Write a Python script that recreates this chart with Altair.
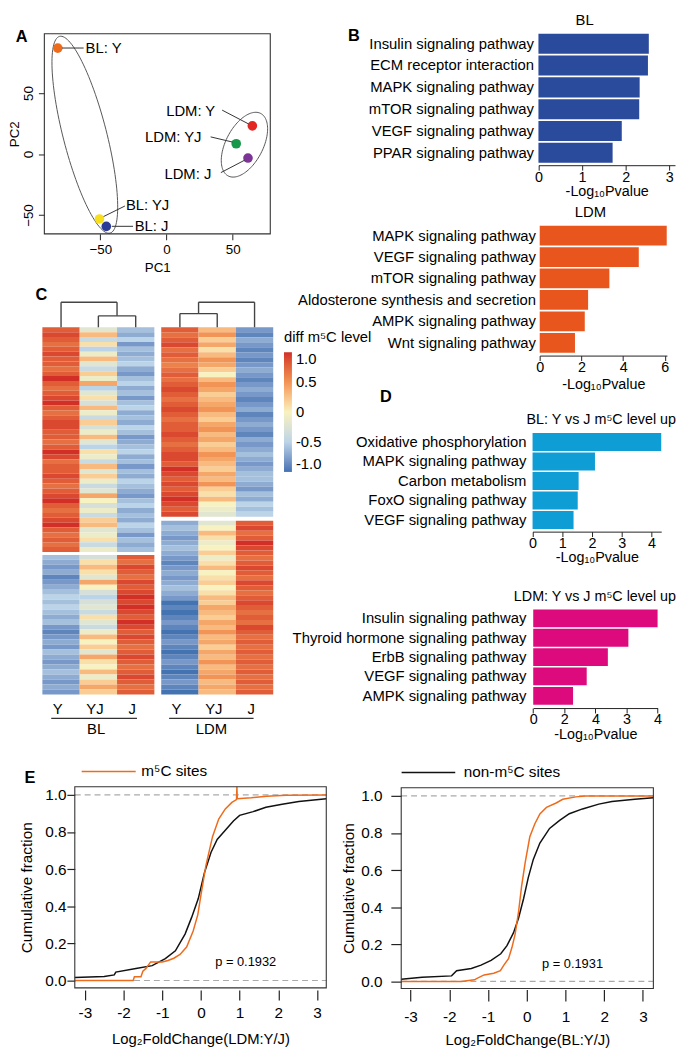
import altair as alt
import pandas as pd

FONT = "Liberation Sans"
W, H = 680, 1046


def X(x):
    return round((x - 6) * 0.994, 2)


def Y(y):
    return round((y - 1) * 0.988, 2)


# ---------------- Panel A data ----------------
pca_samples = ["BL: Y", "BL: YJ", "BL: J", "LDM: Y", "LDM: YJ", "LDM: J"]
pca_pc1 = [-82.2, -50.7, -45.5, 64.9, 52.7, 61.6]
pca_pc2 = [86.8, -53.2, -59.3, 23.1, 8.4, -3.3]
pca_colors = ["#EE6B1C", "#F8DF1E", "#2C3C96", "#E42622", "#18994A", "#7C3596"]
ell_pc1 = [-61.75, 58.92]
ell_pc2 = [15.8, 7.64]
ell_a_px = [103.8, 36.0]
ell_b_px = [22.2, 19.0]
ell_tilt = [14.4, -27.5]

# ---------------- Panel B / D data ----------------
bl_terms = ["Insulin signaling pathway", "ECM receptor interaction", "MAPK signaling pathway",
            "mTOR signaling pathway", "VEGF signaling pathway", "PPAR signaling pathway"]
bl_vals = [2.53, 2.51, 2.32, 2.31, 1.91, 1.70]
ldm_terms = ["MAPK signaling pathway", "VEGF signaling pathway", "mTOR signaling pathway",
             "Aldosterone synthesis and secretion", "AMPK signaling pathway", "Wnt signaling pathway"]
ldm_vals = [6.09, 4.75, 3.34, 2.32, 2.16, 1.69]
dbl_terms = ["Oxidative phosphorylation", "MAPK signaling pathway", "Carbon metabolism",
             "FoxO signaling pathway", "VEGF signaling pathway"]
dbl_vals = [4.33, 2.10, 1.55, 1.52, 1.38]
dldm_terms = ["Insulin signaling pathway", "Thyroid hormone signaling pathway", "ErbB signaling pathway",
              "VEGF signaling pathway", "AMPK signaling pathway"]
dldm_vals = [4.0, 3.06, 2.40, 1.72, 1.28]

# ---------------- Panel C data (tenths) ----------------
heat_cols = ["Y", "YJ", "J"]
bl_up_Y = [8, 9, 8, 7, 8, 9, 8, 8, 7, 8, 10, 8, 7, 8, 9, 10, 8, 7, 8, 9, 9, 8, 8, 7, 8, 10, 9, 7, 8, 8,
           9, 8, 7, 8, 9, 10, 8, 7, 8, 9, 10, 8, 7, 8, 7, 8]
bl_up_YJ = [-2, 3, -4, 1, -5, -1, 3, -2, -4, 2, -1, 4, -5, -2, 1, -3, 3, -1, -4, 2, -3, -1, 3, -2, -5, 1,
            -1, -4, 3, -2, 2, -1, -4, -2, 4, 0, -3, -1, -4, 2, 3, -2, -1, 1, -4, -1]
bl_up_J = [-6, -7, -5, -8, -6, -7, -6, -5, -7, -8, -6, -5, -7, -6, -8, -6, -5, -7, -6, -7, -5, -6, -8, -7,
           -6, -5, -7, -6, -8, -6, -7, -5, -6, -7, -8, -6, -5, -7, -6, -7, -5, -6, -8, -6, -7, -6]
bl_dn_Y = [-6, -7, -8, -7, -9, -8, -7, -6, -5, -6, -5, -6, -7, -6, -8, -9, -8, -7, -8, -6, -7, -8, -7, -6,
           -7, -8, -7, -8]
bl_dn_YJ = [-3, 1, 3, 1, -2, 4, 0, -3, -5, -3, -2, -4, 1, -2, -4, -1, 3, 0, 2, -2, 4, 1, 0, 3, -1, 2, 4, 2]
bl_dn_J = [8, 7, 9, 8, 7, 9, 8, 9, 10, 9, 10, 9, 8, 10, 9, 8, 9, 8, 7, 8, 9, 8, 7, 8, 9, 8, 7, 8]
ldm_up_Y = [8, 7, 8, 9, 7, 8, 7, 6, 7, 8, 7, 8, 9, 8, 7, 8, 9, 8, 7, 8, 8, 9, 8, 7, 8, 9, 9, 8, 10, 9,
            8, 9, 8, 9, 10, 9, 8, 9]
ldm_up_YJ = [3, 5, 2, 4, 1, 3, 5, 4, 2, 0, 3, 5, 4, 2, 3, 4, 5, 3, 2, 4, 5, 3, 4, 2, 3, 5, 4, 3, 2, 4,
             3, 5, 2, 1, 3, 0, -1, -2]
ldm_up_J = [-8, -9, -7, -8, -9, -8, -9, -8, -7, -8, -9, -8, -7, -8, -9, -8, -7, -9, -8, -7, -8, -9,
            -7, -8, -7, -6, -7, -8, -7, -6, -6, -7, -8, -6, -7, -5, -6, -5]
ldm_dn_Y = [-7, -6, -7, -8, -7, -6, -7, -8, -9, -8, -7, -8, -7, -6, -7, -8, -10, -9, -10, -9, -8, -9, -10,
            -9, -8, -9, -10, -9, -8, -9, -10, -9, -8, -9, -10]
ldm_dn_YJ = [-2, 0, 3, 1, -1, 0, 2, -1, 1, 3, 0, 1, 2, 0, 1, 3, 2, 4, 3, 2, 4, 3, 5, 3, 4, 2, 4, 3, 5, 3,
             4, 5, 3, 4, 3]
ldm_dn_J = [8, 9, 7, 8, 10, 9, 8, 7, 8, 9, 8, 7, 9, 8, 7, 8, 9, 8, 7, 8, 7, 9, 8, 7, 8, 7, 8, 7, 8, 7,
            8, 7, 8, 7, 8]
heat_colors = ["#4473B2", "#BCD4E8", "#F8F2C0", "#F29455", "#D22F27"]
# dendrogram segments (column units, merge height 0..1)
dendro_x1 = [0.5, 1.5, 2.5, 1.5, 2.0, 0.5, 3.684, 4.684, 3.684, 4.184, 5.684, 4.184]
dendro_x2 = [0.5, 1.5, 2.5, 2.5, 2.0, 2.0, 3.684, 4.684, 4.684, 4.184, 5.684, 5.684]
dendro_h1 = [0, 0, 0, 0.455, 0.455, 1, 0, 0, 0.545, 0.545, 0, 1]
dendro_h2 = [1, 0.455, 0.455, 0.455, 1, 1, 0.545, 0.545, 0.545, 1, 1, 1]

# ---------------- Panel E data ----------------
ldm_m5c_x = [-3.26, -1.75, -1.72, -1.55, -1.5, -1.42, -1.3, -1.0, -0.85, -0.7, -0.54, -0.37, -0.2, -0.08,
             0.0, 0.13, 0.3, 0.46, 0.63, 0.8, 0.92, 0.93, 0.94, 1.3, 1.7, 2.2, 3.24]
ldm_m5c_y = [0.0, 0.0, 0.02, 0.02, 0.05, 0.065, 0.1, 0.1, 0.108, 0.12, 0.14, 0.18, 0.267, 0.355,
             0.46, 0.62, 0.775, 0.87, 0.925, 0.96, 0.975, 1.044, 0.98, 0.985, 0.993, 0.998, 1.0]
ldm_non_x = [-3.26, -2.5, -2.24, -2.2, -1.68, -1.26, -0.92, -0.66, -0.41, -0.24, -0.07, 0.09, 0.26, 0.42,
             0.63, 0.84, 1.0, 1.35, 1.68, 2.1, 2.53, 3.24]
ldm_non_y = [0.016, 0.022, 0.03, 0.045, 0.065, 0.08, 0.118, 0.16, 0.25, 0.34, 0.44, 0.58, 0.69, 0.76,
             0.81, 0.86, 0.89, 0.91, 0.934, 0.95, 0.965, 0.98]
bl_m5c_x = [-3.24, -1.69, -1.35, -1.27, -1.1, -0.85, -0.68, -0.59, -0.47, -0.38, -0.3, -0.21, -0.13, -0.04,
            0.08, 0.21, 0.34, 0.51, 0.76, 0.93, 1.27, 1.52, 3.27]
bl_m5c_y = [0.0, 0.0, 0.009, 0.018, 0.035, 0.044, 0.058, 0.088, 0.123, 0.184, 0.254, 0.377, 0.517, 0.64,
            0.78, 0.85, 0.903, 0.938, 0.962, 0.982, 0.995, 1.0, 1.0]
bl_non_x = [-3.24, -2.7, -1.94, -1.81, -1.43, -1.18, -0.92, -0.67, -0.51, -0.34, -0.21, -0.08, 0.04, 0.17,
            0.34, 0.59, 0.85, 1.1, 1.44, 1.86, 2.2, 2.79, 3.27]
bl_non_y = [0.012, 0.023, 0.03, 0.058, 0.07, 0.088, 0.114, 0.149, 0.193, 0.263, 0.342, 0.447, 0.56, 0.658,
            0.746, 0.825, 0.868, 0.904, 0.93, 0.956, 0.97, 0.982, 0.99]

ORANGE = "#EE6B1C"
one = pd.DataFrame({"k": [0]})
AX = dict(grid=False, labelFont=FONT, titleFont=FONT, labelColor="black", titleColor="black",
          titleFontWeight="normal", tickColor="#222222", domainColor="#222222", labelFlush=False)


def txt(s, x, y, size=15, align="center", weight="normal"):
    return alt.Chart(one).mark_text(text=s, font=FONT, fontSize=size, align=align, baseline="middle",
                                    fontWeight=weight, color="black").encode(
        x=alt.value(X(x)), y=alt.value(Y(y)))


def seg(x1, y1, x2, y2, color="#333333", w=1.0):
    return alt.Chart(one).mark_rule(color=color, strokeWidth=w).encode(
        x=alt.value(X(x1)), y=alt.value(Y(y1)), x2=alt.value(X(x2)), y2=alt.value(Y(y2)))


def frame(x1, y1, x2, y2):
    return alt.Chart(one).mark_rect(fillOpacity=0, stroke="#333333", strokeWidth=1.1).encode(
        x=alt.value(X(x1)), y=alt.value(Y(y1)), x2=alt.value(X(x2)), y2=alt.value(Y(y2)))


layers = []

# ================= Panel A =================
xa = alt.Scale(domain=[-92.35, 78.45], range=[X(43), X(273)], nice=False, zero=False)
ya = alt.Scale(domain=[-65.4, 98.6], range=[Y(226), Y(21)], nice=False, zero=False)
kx = (X(273) - X(43)) / (78.45 + 92.35)
ky = (Y(226) - Y(21)) / (98.6 + 65.4)

for cx, cy, a, b, t in zip(ell_pc1, ell_pc2, ell_a_px, ell_b_px, ell_tilt):
    a, b = a * 0.99, b * 0.99
    T = "(datum.deg*PI/180)"
    P = f"({t}*PI/180)"
    layers.append(
        alt.Chart(alt.sequence(0, 363, 3, as_="deg")).transform_calculate(
            pc1=f"{cx} + ({a}*cos({T})*sin({P}) + {b}*sin({T})*cos({P}))/{kx}",
            pc2=f"{cy} - ({a}*cos({T})*cos({P}) - {b}*sin({T})*sin({P}))/{ky}",
        ).mark_line(color="#555555", strokeWidth=1).encode(
            x=alt.X("pc1:Q", scale=xa, axis=None),
            y=alt.Y("pc2:Q", scale=ya, axis=None),
            order="deg:Q")
    )

pca_df = pd.DataFrame({"sample": pca_samples, "pc1": pca_pc1, "pc2": pca_pc2})
layers.append(
    alt.Chart(pca_df).mark_circle(size=95, opacity=1).encode(
        x=alt.X("pc1:Q", scale=xa, axis=alt.Axis(
            orient="bottom", offset=Y(226) - H, values=[-50, 0, 50], tickSize=6, labelPadding=3,
            domain=False, labelFontSize=13.5, title="PC1", titleFontSize=13.5, titlePadding=5, **AX)),
        y=alt.Y("pc2:Q", scale=ya, axis=alt.Axis(
            orient="left", offset=-X(43), values=[-50, 0, 50], tickSize=6, labelPadding=3,
            domain=False, labelAngle=270, labelAlign="center", labelBaseline="bottom",
            labelFontSize=13.5, title="PC2", titleFontSize=13.5, titlePadding=0.5, **AX)),
        color=alt.Color("sample:N", scale=alt.Scale(domain=pca_samples, range=pca_colors), legend=None),
    )
)
layers.append(frame(43, 21, 273, 226))
layers += [
    seg(61, 35.7, 83, 35.7), seg(103.3, 208.3, 125, 197.5), seg(111.7, 218.3, 133.3, 218.3),
    seg(224, 99.3, 251, 113.5), seg(212.3, 126.7, 234.5, 132), seg(222.7, 163.3, 247, 150.5),
    txt("BL: Y", 85, 35.7, 15, "left"), txt("BL: YJ", 126, 196.7, 15, "left"),
    txt("BL: J", 135, 218.3, 15, "left"), txt("LDM: Y", 217, 100.7, 15, "right"),
    txt("LDM: YJ", 203, 126.7, 15, "right"), txt("LDM: J", 213, 164.3, 15, "right"),
    txt("A", 20, 24, 16.5, weight="bold"),
]


# ================= Panels B & D =================
def bars(terms, vals, color, x0, x1, dmax, ytop, ybot, axis_y, ticks, tpad, label_end, label_expr=None):
    df = pd.DataFrame({"term": terms, "v": vals})
    xs = alt.Scale(domain=[0, dmax], range=[X(x0), X(x1)], nice=False, zero=True)
    ys = alt.Scale(domain=terms, range=[Y(ytop), Y(ybot)], paddingInner=0.08, paddingOuter=0)
    xax = dict(orient="bottom", offset=Y(axis_y) - H, values=ticks, tickSize=5, labelPadding=0,
               labelFontSize=14.5, title="-Log₁₀Pvalue", titleFontSize=14.5, titlePadding=tpad,
               domain=True, **AX)
    if label_expr:
        xax["labelExpr"] = label_expr
    return alt.Chart(df).mark_bar(color=color).encode(
        x=alt.X("v:Q", scale=xs, axis=alt.Axis(**xax)),
        y=alt.Y("term:N", scale=ys, sort=terms, axis=alt.Axis(
            orient="left", offset=-X(x0), ticks=False, tickSize=0, domain=False,
            labelPadding=X(x0) - X(label_end), labelFontSize=15, labelLimit=400, title="", **AX)),
    )


layers += [
    bars(bl_terms, bl_vals, "#2A4A9B", 546, 685, 3.13, 21, 153.3, 155.7, [0, 1, 2, 3], 1, 541),
    bars(ldm_terms, ldm_vals, "#E8561D", 547.3, 676.8, 6.1, 217.7, 347.7, 350.7, [0, 2, 4, 6], 3.5, 543),
    bars(dbl_terms, dbl_vals, "#0F9DD5", 540, 671, 4.33, 430, 528.3, 531, [0, 1, 2, 3, 4], 1, 533.3),
    bars(dldm_terms, dldm_vals, "#DD0A7D", 540.7, 667.3, 4.0, 610.7, 708.3, 711.7, [0, 1, 2, 3, 4], 1, 533.3,
         "datum.value == 1 ? '2' : datum.value == 2 ? '4' : datum.value == 3 ? '3' : datum.value == 4 ? '4' : '0'"),
    txt("B", 358, 23, 16.5, weight="bold"),
    txt("BL", 593, 7, 15),
    txt("LDM", 599, 204, 15),
    txt("D", 390.7, 392.7, 16.5, weight="bold"),
    txt("BL: Y vs J m⁵C level up", 686, 416.7, 14.5, "right"),
    txt("LDM: Y vs J m⁵C level up", 686, 598.3, 14.5, "right"),
]

# ================= Panel C =================
LDM_X0 = 3.184
blocks = [
    (0.0, 0.0, 0.612, [bl_up_Y, bl_up_YJ, bl_up_J]),
    (0.0, 0.620, 1.0, [bl_dn_Y, bl_dn_YJ, bl_dn_J]),
    (LDM_X0, 0.0, 0.516, [ldm_up_Y, ldm_up_YJ, ldm_up_J]),
    (LDM_X0, 0.527, 1.0, [ldm_dn_Y, ldm_dn_YJ, ldm_dn_J]),
]
rows = []
for xo, s, e, cols in blocks:
    n = len(cols[0])
    step = (e - s) / n
    for ci, col in enumerate(cols):
        for i, v in enumerate(col):
            rows.append(dict(c0=xo + ci, c1=xo + ci + 1, r0=s + i * step, r1=s + (i + 1) * step, v=v / 10))
heat_df = pd.DataFrame(rows)
hx = alt.Scale(domain=[0, LDM_X0 + 3], range=[X(41), X(276)], nice=False, zero=False)
hy = alt.Scale(domain=[0, 1], range=[Y(321.7), Y(697.7)], nice=False, zero=False)
layers.append(
    alt.Chart(heat_df).mark_rect().encode(
        x=alt.X("c0:Q", scale=hx, axis=alt.Axis(
            orient="bottom", offset=Y(697.7) - H,
            values=[0.5, 1.5, 2.5, LDM_X0 + 0.5, LDM_X0 + 1.5, LDM_X0 + 2.5],
            labelExpr=f"['Y','YJ','J'][floor(datum.value < 3 ? datum.value : datum.value - {LDM_X0})]",
            ticks=False, tickSize=0, domain=False, labelPadding=7.5, labelOffset=-4, labelFontSize=15,
            title="", **AX)),
        x2="c1:Q",
        y=alt.Y("r0:Q", scale=hy, axis=None),
        y2="r1:Q",
        color=alt.Color("v:Q", scale=alt.Scale(domain=[-1, -0.5, 0, 0.5, 1], range=heat_colors,
                                               interpolate="lab"),
                        legend=alt.Legend(
                            orient="none", legendX=X(287), legendY=Y(325), direction="vertical",
                            title="diff m⁵C level", titleFont=FONT, titleFontSize=15,
                            titleFontWeight="normal", titleColor="black", titlePadding=7, padding=0,
                            gradientLength=Y(469.3) - Y(346.7), gradientThickness=8,
                            gradientStrokeWidth=0, labelFont=FONT, labelFontSize=15,
                            labelColor="black", labelOffset=4, values=[-1, -0.5, 0, 0.5, 1],
                            labelExpr="datum.value == 0 ? '0' : datum.value < 0 ? '-' + format(-datum.value, '.1f') : format(datum.value, '.1f')")),
    )
)
dendro_df = pd.DataFrame({"x1": dendro_x1, "x2": dendro_x2, "h1": dendro_h1, "h2": dendro_h2})
dy = alt.Scale(domain=[0, 1], range=[Y(321.7), Y(296)], nice=False, zero=False)
layers.append(
    alt.Chart(dendro_df).mark_rule(color="#444444", strokeWidth=1.4).encode(
        x=alt.X("x1:Q", scale=hx, axis=None), x2="x2:Q",
        y=alt.Y("h1:Q", scale=dy, axis=None), y2="h2:Q")
)
layers += [
    txt("C", 40, 288.3, 16.5, weight="bold"),
    seg(50, 722.3, 137.3, 722.3, "#333333", 1.2),
    seg(170, 722.3, 256, 722.3, "#333333", 1.2),
    txt("BL", 95.7, 733, 15),
    txt("LDM", 213, 733, 15),
]


# ================= Panel E =================
def cdf_panel(xd, yd, fx0, fx1, fy0, fy1, x_title, non_x, non_y, m5c_x, m5c_y,
              x_axis_y, xtick, xlab_pad, x_tpad, ytick, ylab_pad, y_tpad):
    xs = alt.Scale(domain=xd, range=[X(fx0), X(fx1)], nice=False, zero=False)
    ys = alt.Scale(domain=yd, range=[Y(fy1), Y(fy0)], nice=False, zero=False)
    out = []
    out.append(
        alt.Chart(pd.DataFrame({"y": [0, 1]})).mark_rule(color="#AAAAAA", strokeDash=[6, 4], strokeWidth=1.2)
        .encode(y=alt.Y("y:Q", scale=ys, axis=None), x=alt.value(X(fx0)), x2=alt.value(X(fx1)))
    )
    out.append(
        alt.Chart(pd.DataFrame({"x": non_x, "y": non_y})).mark_line(color="#111111", strokeWidth=1.5).encode(
            x=alt.X("x:Q", scale=xs, axis=alt.Axis(
                orient="bottom", offset=Y(x_axis_y) - H, values=[-3, -2, -1, 0, 1, 2, 3], tickSize=xtick,
                tickWidth=1.2, domain=False, labelPadding=xlab_pad, labelFontSize=15.5,
                labelExpr="datum.value < 0 ? '-' + abs(datum.value) : '' + datum.value",
                title=x_title, titleFontSize=15, titlePadding=x_tpad, **AX)),
            y=alt.Y("y:Q", scale=ys, axis=alt.Axis(
                orient="left", offset=-X(fx0), values=[0, 0.2, 0.4, 0.6, 0.8, 1.0], format=".1f",
                tickSize=ytick, tickWidth=1.2, domain=False, labelPadding=ylab_pad, labelFontSize=15.5,
                title="Cumulative fraction", titleFontSize=15.5, titlePadding=y_tpad, **AX)),
        )
    )
    out.append(
        alt.Chart(pd.DataFrame({"x": m5c_x, "y": m5c_y})).mark_line(color=ORANGE, strokeWidth=1.5).encode(
            x=alt.X("x:Q", scale=xs, axis=None), y=alt.Y("y:Q", scale=ys, axis=None))
    )
    out.append(frame(fx0, fy0, fx1, fy1))
    return out


layers += cdf_panel([-3.26, 3.24], [-0.04, 1.0442], 74, 330, 792.3, 998.3, "Log₂FoldChange(LDM:Y/J)",
                    ldm_non_x, ldm_non_y, ldm_m5c_x, ldm_m5c_y, 1000.5, 10, 6, 11, 8, 1, 10)
layers += cdf_panel([-3.24, 3.27], [-0.0384, 1.0442], 406.3, 663, 793.3, 999, "Log₂FoldChange(BL:Y/J)",
                    bl_non_x, bl_non_y, bl_m5c_x, bl_m5c_y, 1000, 11.5, 8.5, 8, 10.5, 9, 4)
layers += [
    txt("E", 28.3, 783.3, 16.5, weight="bold"),
    seg(81, 776.7, 136, 776.7, ORANGE, 1.5),
    txt("m⁵C sites", 141.7, 776.7, 15.5, "left"),
    seg(406.7, 777.7, 461.3, 777.7, "#111111", 1.5),
    txt("non-m⁵C sites", 470, 777.7, 15.5, "left"),
    txt("p = 0.1932", 248, 972.3, 13),
    txt("p = 0.1931", 580.7, 974, 13),
]

chart = (
    alt.layer(*layers)
    .properties(width=W, height=H, padding=0, autosize=alt.AutoSizeParams(type="none"))
    .resolve_scale(x="independent", y="independent", color="independent")
    .configure_view(strokeOpacity=0)
)

chart.save("out.html", embed_options={"renderer": "svg", "actions": False})
